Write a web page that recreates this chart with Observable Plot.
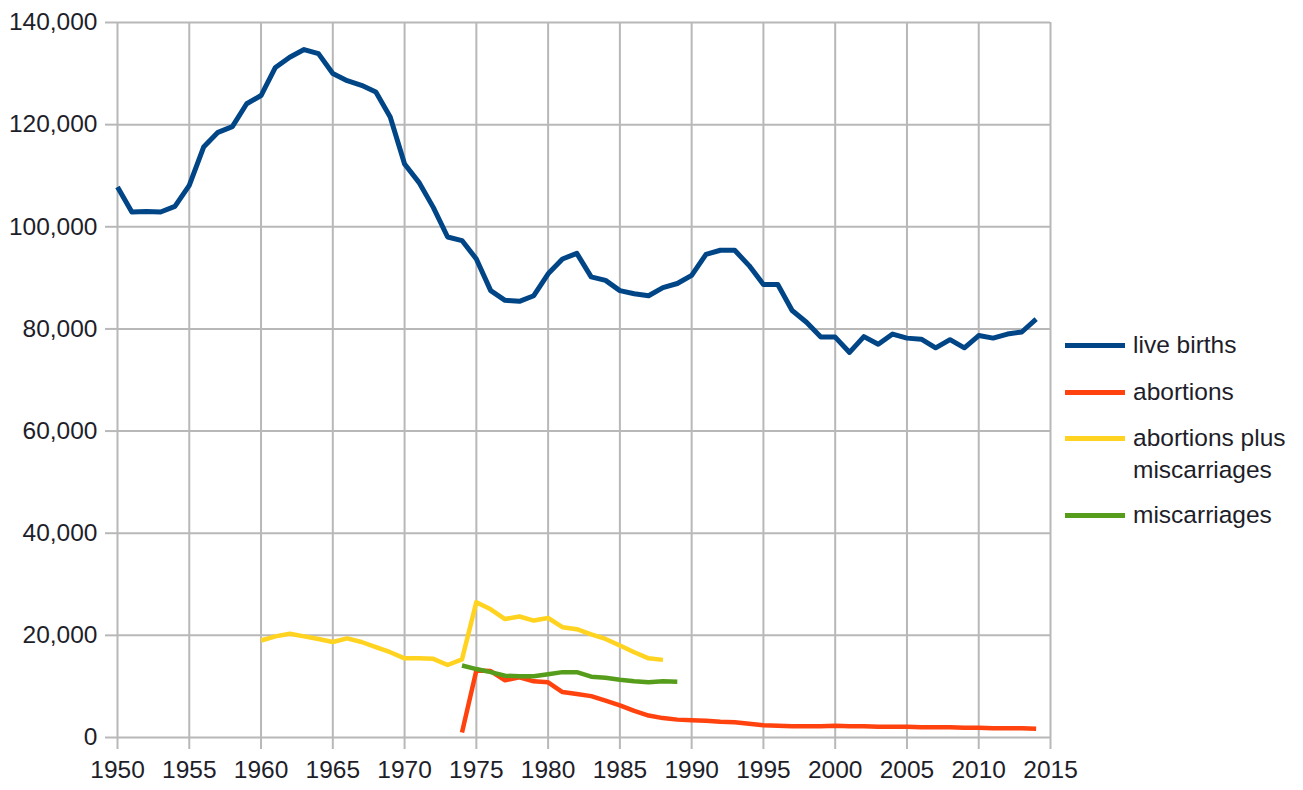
<!DOCTYPE html>
<html>
<head>
<meta charset="utf-8">
<script src="https://cdn.jsdelivr.net/npm/d3@7"></script>
<script src="https://cdn.jsdelivr.net/npm/@observablehq/plot@0.6"></script>
<style>
  html, body { margin: 0; padding: 0; background: #fff; }
  #wrap { position: relative; width: 1303px; height: 790px; font-family: "Liberation Sans", Arial, sans-serif; color: #1e1e2a; }
  #legend { position: absolute; left: 1065px; top: 0; }
  .item { position: absolute; left: 0; white-space: nowrap; font-size: 24.5px; line-height: 32px; }
  .sw { position: absolute; left: 0; width: 60px; height: 5px; }
  .lbl { position: absolute; left: 68px; }
</style>
</head>
<body>
<div id="wrap"></div>
<script>
// ---- data ----
const birthYears = d3.range(1950, 2015);
const liveBirths = [
  107800, 102900, 103000, 102900, 104000, 108100, 115600, 118500, 119600, 124100,
  125700, 131200, 133200, 134700, 133900, 130000, 128600, 127700, 126400, 121500,
  112300, 108700, 103800, 98000, 97300, 93700, 87500, 85600, 85400, 86500,
  90800, 93700, 94800, 90200, 89500, 87500, 86900, 86500, 88100, 88900,
  90500, 94600, 95400, 95400, 92400, 88700, 88700, 83600, 81300, 78400,
  78400, 75400, 78500, 77000, 79000, 78200, 78000, 76300, 77900, 76300,
  78700, 78200, 79000, 79400, 81900
];
const abortionYears = d3.range(1974, 2015);
const abortions = [
  1000, 13100, 13000, 11200, 11800, 11000,
  10800, 8900, 8500, 8100, 7200, 6300, 5200, 4300, 3800, 3500,
  3400, 3300, 3100, 3000, 2700, 2400, 2300, 2200, 2200, 2200,
  2300, 2200, 2200, 2100, 2100, 2100, 2000, 2000, 2000, 1900,
  1900, 1800, 1800, 1800, 1700
];
const plusYears = d3.range(1960, 1989);
const abortionsPlusMiscarriages = [
  19000, 19800, 20300, 19800, 19300, 18700, 19400, 18700, 17700, 16700,
  15500, 15500, 15400, 14200, 15300, 26500, 25100, 23200, 23700, 22900,
  23400, 21600, 21200, 20200, 19300, 18000, 16700, 15500, 15200
];
const miscarriageYears = d3.range(1974, 1990);
const miscarriages = [
  14100, 13400, 12800, 12100, 12000, 12000, 12400, 12800, 12800, 11900,
  11700, 11300, 11000, 10800, 11000, 10900
];
const seriesNames = ["live births", "abortions", "abortions plus\nmiscarriages", "miscarriages"];
const seriesColors = ["#004586", "#ff420e", "#ffd320", "#579d1c"];
const xTicks = d3.range(1950, 2016, 5);
const yTicks = d3.range(0, 140001, 20000);

// ---- build ----
const toRows = (years, vals) => years.map((x, i) => ({x, y: vals[i]}));
const sets = [
  toRows(birthYears, liveBirths),
  toRows(abortionYears, abortions),
  toRows(plusYears, abortionsPlusMiscarriages),
  toRows(miscarriageYears, miscarriages)
];
const grid = "#b8b8b8";

const chart = Plot.plot({
  width: 1303,
  height: 790,
  marginLeft: 117,
  marginRight: 253,
  marginTop: 22,
  marginBottom: 53,
  style: {fontFamily: "Liberation Sans, Arial, sans-serif", fontSize: "24.5px", color: "#1e1e2a", background: "#fff"},
  x: {domain: [1950, 2015], label: null},
  y: {domain: [0, 140000], label: null},
  marks: [
    Plot.ruleX(xTicks, {stroke: grid, strokeWidth: 2}),
    Plot.ruleY(yTicks, {stroke: grid, strokeWidth: 2}),
    Plot.axisX({ticks: xTicks, tickFormat: d => String(d), tickSize: 12, tickPadding: 11, stroke: grid, strokeWidth: 2, strokeOpacity: 1, label: null}),
    Plot.axisY({ticks: yTicks, tickFormat: d3.format(","), tickSize: 12, tickPadding: 8, stroke: grid, strokeWidth: 2, strokeOpacity: 1, label: null}),
    ...sets.map((rows, k) => Plot.line(rows, {x: "x", y: "y", stroke: seriesColors[k], strokeWidth: k === 0 ? 5 : 4.5, strokeLinejoin: "round", strokeLinecap: "butt"}))
  ]
});

const wrap = document.getElementById("wrap");
wrap.appendChild(chart);

// legend
const legend = document.createElement("div");
legend.id = "legend";
const rowsTop = [329, 376, 422, 499];
seriesNames.forEach((name, k) => {
  const item = document.createElement("div");
  item.className = "item";
  item.style.top = rowsTop[k] + "px";
  const sw = document.createElement("div");
  sw.className = "sw";
  sw.style.background = seriesColors[k];
  sw.style.top = "14px";
  item.appendChild(sw);
  const lbl = document.createElement("div");
  lbl.className = "lbl";
  lbl.innerHTML = name.split("\n").join("<br>");
  item.appendChild(lbl);
  legend.appendChild(item);
});
wrap.appendChild(legend);
</script>
</body>
</html>
